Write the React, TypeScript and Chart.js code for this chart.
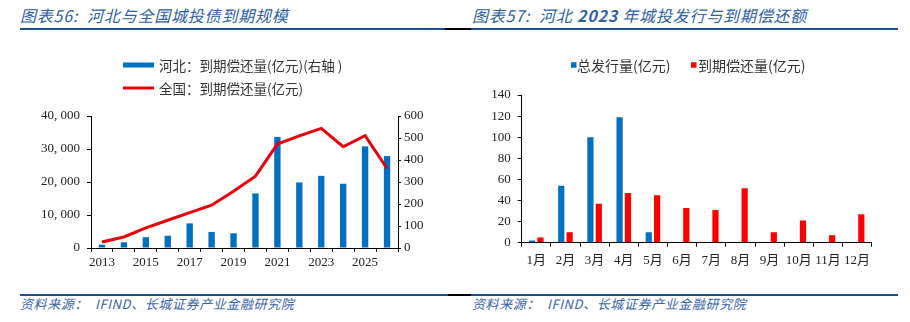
import React, { useEffect, useRef } from 'react';
import { Chart, registerables } from 'chart.js';

Chart.register(...registerables);

// ---------- Data ----------
const years = ['2013', '2014', '2015', '2016', '2017', '2018', '2019', '2020', '2021', '2022', '2023', '2024', '2025', '2026'];
const hebeiMaturity = [15, 26, 49, 56, 112, 73, 67, 248, 505, 298, 328, 292, 462, 418];
const nationalMaturity = [1820, 3340, 6080, 8400, 10730, 12960, 17200, 21770, 31500, 34000, 36250, 30680, 34020, 24100];
const hebeiLabel = '河北：到期偿还量(亿元)(右轴 )';
const nationalLabel = '全国：到期偿还量(亿元)';

const months = ['1月', '2月', '3月', '4月', '5月', '6月', '7月', '8月', '9月', '10月', '11月', '12月'];
const issuance2023 = [2, 54, 100, 119, 10, 0, 0, 0, 0, 0, 0, 0];
const repayment2023 = [5, 10, 37, 47, 45, 33, 31, 51.5, 10, 21, 7, 27];
const issuanceLabel = '总发行量(亿元)';
const repaymentLabel = '到期偿还量(亿元)';

// ---------- Styles ----------
const BLUE = '#0070C0';
const RED_LINE = '#E8000B';
const RED_BAR = '#FF0000';
const TICK_FONT = { family: "'Liberation Serif', 'Noto Sans CJK SC', serif", size: 13 };
const TICK_COLOR = '#222';
const CJK = "'Noto Sans CJK SC', sans-serif";

const fmtThousands = (v: number) => {
  const s = String(Math.round(v));
  return s.replace(/\B(?=(\d{3})+(?!\d))/g, ', ');
};

const customLegend = {
  id: 'customLegend',
  afterDraw(chart: any, _args: any, opts: any) {
    if (!opts || !opts.entries) return;
    const ctx = chart.ctx;
    ctx.save();
    ctx.font = `${opts.fontSize}px ${opts.fontFamily}`;
    ctx.textBaseline = 'middle';
    ctx.textAlign = 'left';
    for (const e of opts.entries) {
      const ds = chart.data.datasets[e.dataset];
      const col = ds.type === 'line' ? ds.borderColor : ds.backgroundColor;
      if (e.marker === 'line') {
        ctx.strokeStyle = col;
        ctx.lineWidth = e.thickness;
        ctx.beginPath();
        ctx.moveTo(e.x, e.y);
        ctx.lineTo(e.x + e.length, e.y);
        ctx.stroke();
      } else {
        ctx.fillStyle = col;
        ctx.fillRect(e.x, e.y - e.size / 2, e.size, e.size);
      }
      ctx.fillStyle = opts.color;
      ctx.fillText(ds.label, e.textX, e.y + 0.5);
    }
    ctx.restore();
  },
};

const axisGrid = (len: number) => ({
  drawOnChartArea: false,
  drawTicks: true,
  tickLength: len,
  tickColor: '#000',
  color: '#000',
});

function leftConfig(): any {
  return {
    type: 'bar',
    data: {
      labels: years,
      datasets: [
        {
          type: 'line',
          label: nationalLabel,
          data: nationalMaturity,
          borderColor: RED_LINE,
          backgroundColor: RED_LINE,
          borderWidth: 3,
          pointRadius: 0,
          tension: 0,
          yAxisID: 'y',
          order: 0,
        },
        {
          type: 'bar',
          label: hebeiLabel,
          data: hebeiMaturity,
          backgroundColor: BLUE,
          barPercentage: 0.29,
          categoryPercentage: 1,
          yAxisID: 'y1',
          order: 1,
        },
      ],
    },
    options: {
      responsive: false,
      animation: false,
      events: [],
      layout: { padding: { left: 20, right: 10, top: 76, bottom: 10 } },
      plugins: {
        legend: { display: false },
        tooltip: { enabled: false },
        customLegend: {
          fontSize: 13.5,
          fontFamily: CJK,
          color: '#333',
          entries: [
            { dataset: 1, marker: 'line', x: 123, y: 25, length: 31, thickness: 5, textX: 159 },
            { dataset: 0, marker: 'line', x: 123, y: 48, length: 31, thickness: 3, textX: 159 },
          ],
        },
      },
      scales: {
        x: {
          grid: { ...axisGrid(4), offset: true },
          border: { color: '#000' },
          ticks: {
            autoSkip: false,
            maxRotation: 0,
            padding: 3,
            font: TICK_FONT,
            color: TICK_COLOR,
            callback: (_v: any, i: number) => (i % 2 === 0 ? years[i] : ''),
          },
          afterFit: (s: any) => { s.height = 22; },
        },
        y: {
          position: 'left',
          min: 0,
          max: 40000,
          grid: axisGrid(4),
          border: { color: '#000' },
          ticks: { stepSize: 10000, padding: 7, font: TICK_FONT, color: TICK_COLOR, callback: (v: any) => fmtThousands(v) },
          afterFit: (s: any) => { s.width = 71; },
        },
        y1: {
          position: 'right',
          min: 0,
          max: 600,
          grid: axisGrid(3),
          border: { color: '#000' },
          ticks: { stepSize: 100, padding: 3, font: TICK_FONT, color: TICK_COLOR },
          afterFit: (s: any) => { s.width = 47; },
        },
      },
    },
    plugins: [customLegend],
  };
}

function rightConfig(): any {
  return {
    type: 'bar',
    data: {
      labels: months,
      datasets: [
        {
          label: issuanceLabel,
          data: issuance2023,
          backgroundColor: BLUE,
          barPercentage: 0.74,
          categoryPercentage: 0.575,
        },
        {
          label: repaymentLabel,
          data: repayment2023,
          backgroundColor: RED_BAR,
          barPercentage: 0.74,
          categoryPercentage: 0.575,
        },
      ],
    },
    options: {
      responsive: false,
      animation: false,
      events: [],
      layout: { padding: { left: 20, right: 38.3, top: 55, bottom: 10 } },
      plugins: {
        legend: { display: false },
        tooltip: { enabled: false },
        customLegend: {
          fontSize: 14,
          fontFamily: CJK,
          color: '#333',
          entries: [
            { dataset: 0, marker: 'square', x: 116, y: 25, size: 5.5, textX: 122 },
            { dataset: 1, marker: 'square', x: 236, y: 25, size: 5.5, textX: 243 },
          ],
        },
      },
      scales: {
        x: {
          grid: { ...axisGrid(4), offset: true },
          border: { color: '#000' },
          ticks: { autoSkip: false, maxRotation: 0, padding: 6, font: TICK_FONT, color: TICK_COLOR },
          afterFit: (s: any) => { s.height = 27.3; },
        },
        y: {
          min: 0,
          max: 140,
          grid: axisGrid(4),
          border: { color: '#000' },
          ticks: { stepSize: 20, padding: 7, font: TICK_FONT, color: TICK_COLOR },
          afterFit: (s: any) => { s.width = 46.7; },
        },
      },
    },
    plugins: [customLegend],
  };
}

function ChartCanvas({ make, left, top }: { make: () => any; left: number; top: number }) {
  const ref = useRef<HTMLCanvasElement | null>(null);
  useEffect(() => {
    if (!ref.current) return;
    const chart = new Chart(ref.current, make());
    return () => chart.destroy();
  }, [make]);
  return (
    <canvas
      ref={ref}
      width={455}
      height={240}
      style={{ position: 'absolute', left, top, width: 455, height: 240, display: 'block' }}
    />
  );
}

const titleStyle: React.CSSProperties = {
  position: 'absolute',
  top: 5,
  fontFamily: CJK,
  fontSize: 16,
  lineHeight: '20px',
  fontStyle: 'italic',
  letterSpacing: '0.8px',
  color: '#2E60A4',
  whiteSpace: 'nowrap',
};

const sourceStyle: React.CSSProperties = {
  position: 'absolute',
  top: 296,
  fontFamily: CJK,
  fontSize: 13,
  lineHeight: '16px',
  fontStyle: 'italic',
  letterSpacing: '0.6px',
  color: '#3A64A8',
  whiteSpace: 'nowrap',
};

const rule = (left: number, top: number, width: number, color: string): React.CSSProperties => ({
  position: 'absolute',
  left,
  top,
  width,
  height: 1.5,
  background: color,
});

export default function App() {
  return (
    <div style={{ position: 'absolute', left: 0, top: 0, width: 910, height: 322, background: '#fff', overflow: 'hidden' }}>
      <div style={{ ...titleStyle, left: 20 }}>图表56:&nbsp; 河北与全国城投债到期规模</div>
      <div style={{ ...titleStyle, left: 472 }}>图表57:&nbsp; 河北 <b>2023</b> 年城投发行与到期偿还额</div>
      <div style={rule(20, 28, 425, '#1F4E8C')} />
      <div style={rule(445, 28, 26, '#000')} />
      <div style={rule(471, 28, 427, '#1F4E8C')} />

      <ChartCanvas make={leftConfig} left={0} top={40} />
      <ChartCanvas make={rightConfig} left={455} top={40} />

      <div style={rule(20, 294, 428, '#1F4E8C')} />
      <div style={rule(448, 294, 23, '#000')} />
      <div style={rule(471, 294, 427, '#1F4E8C')} />
      <div style={{ ...sourceStyle, left: 20 }}>资料来源：&nbsp; IFIND、长城证券产业金融研究院</div>
      <div style={{ ...sourceStyle, left: 472 }}>资料来源：&nbsp; IFIND、长城证券产业金融研究院</div>
    </div>
  );
}
